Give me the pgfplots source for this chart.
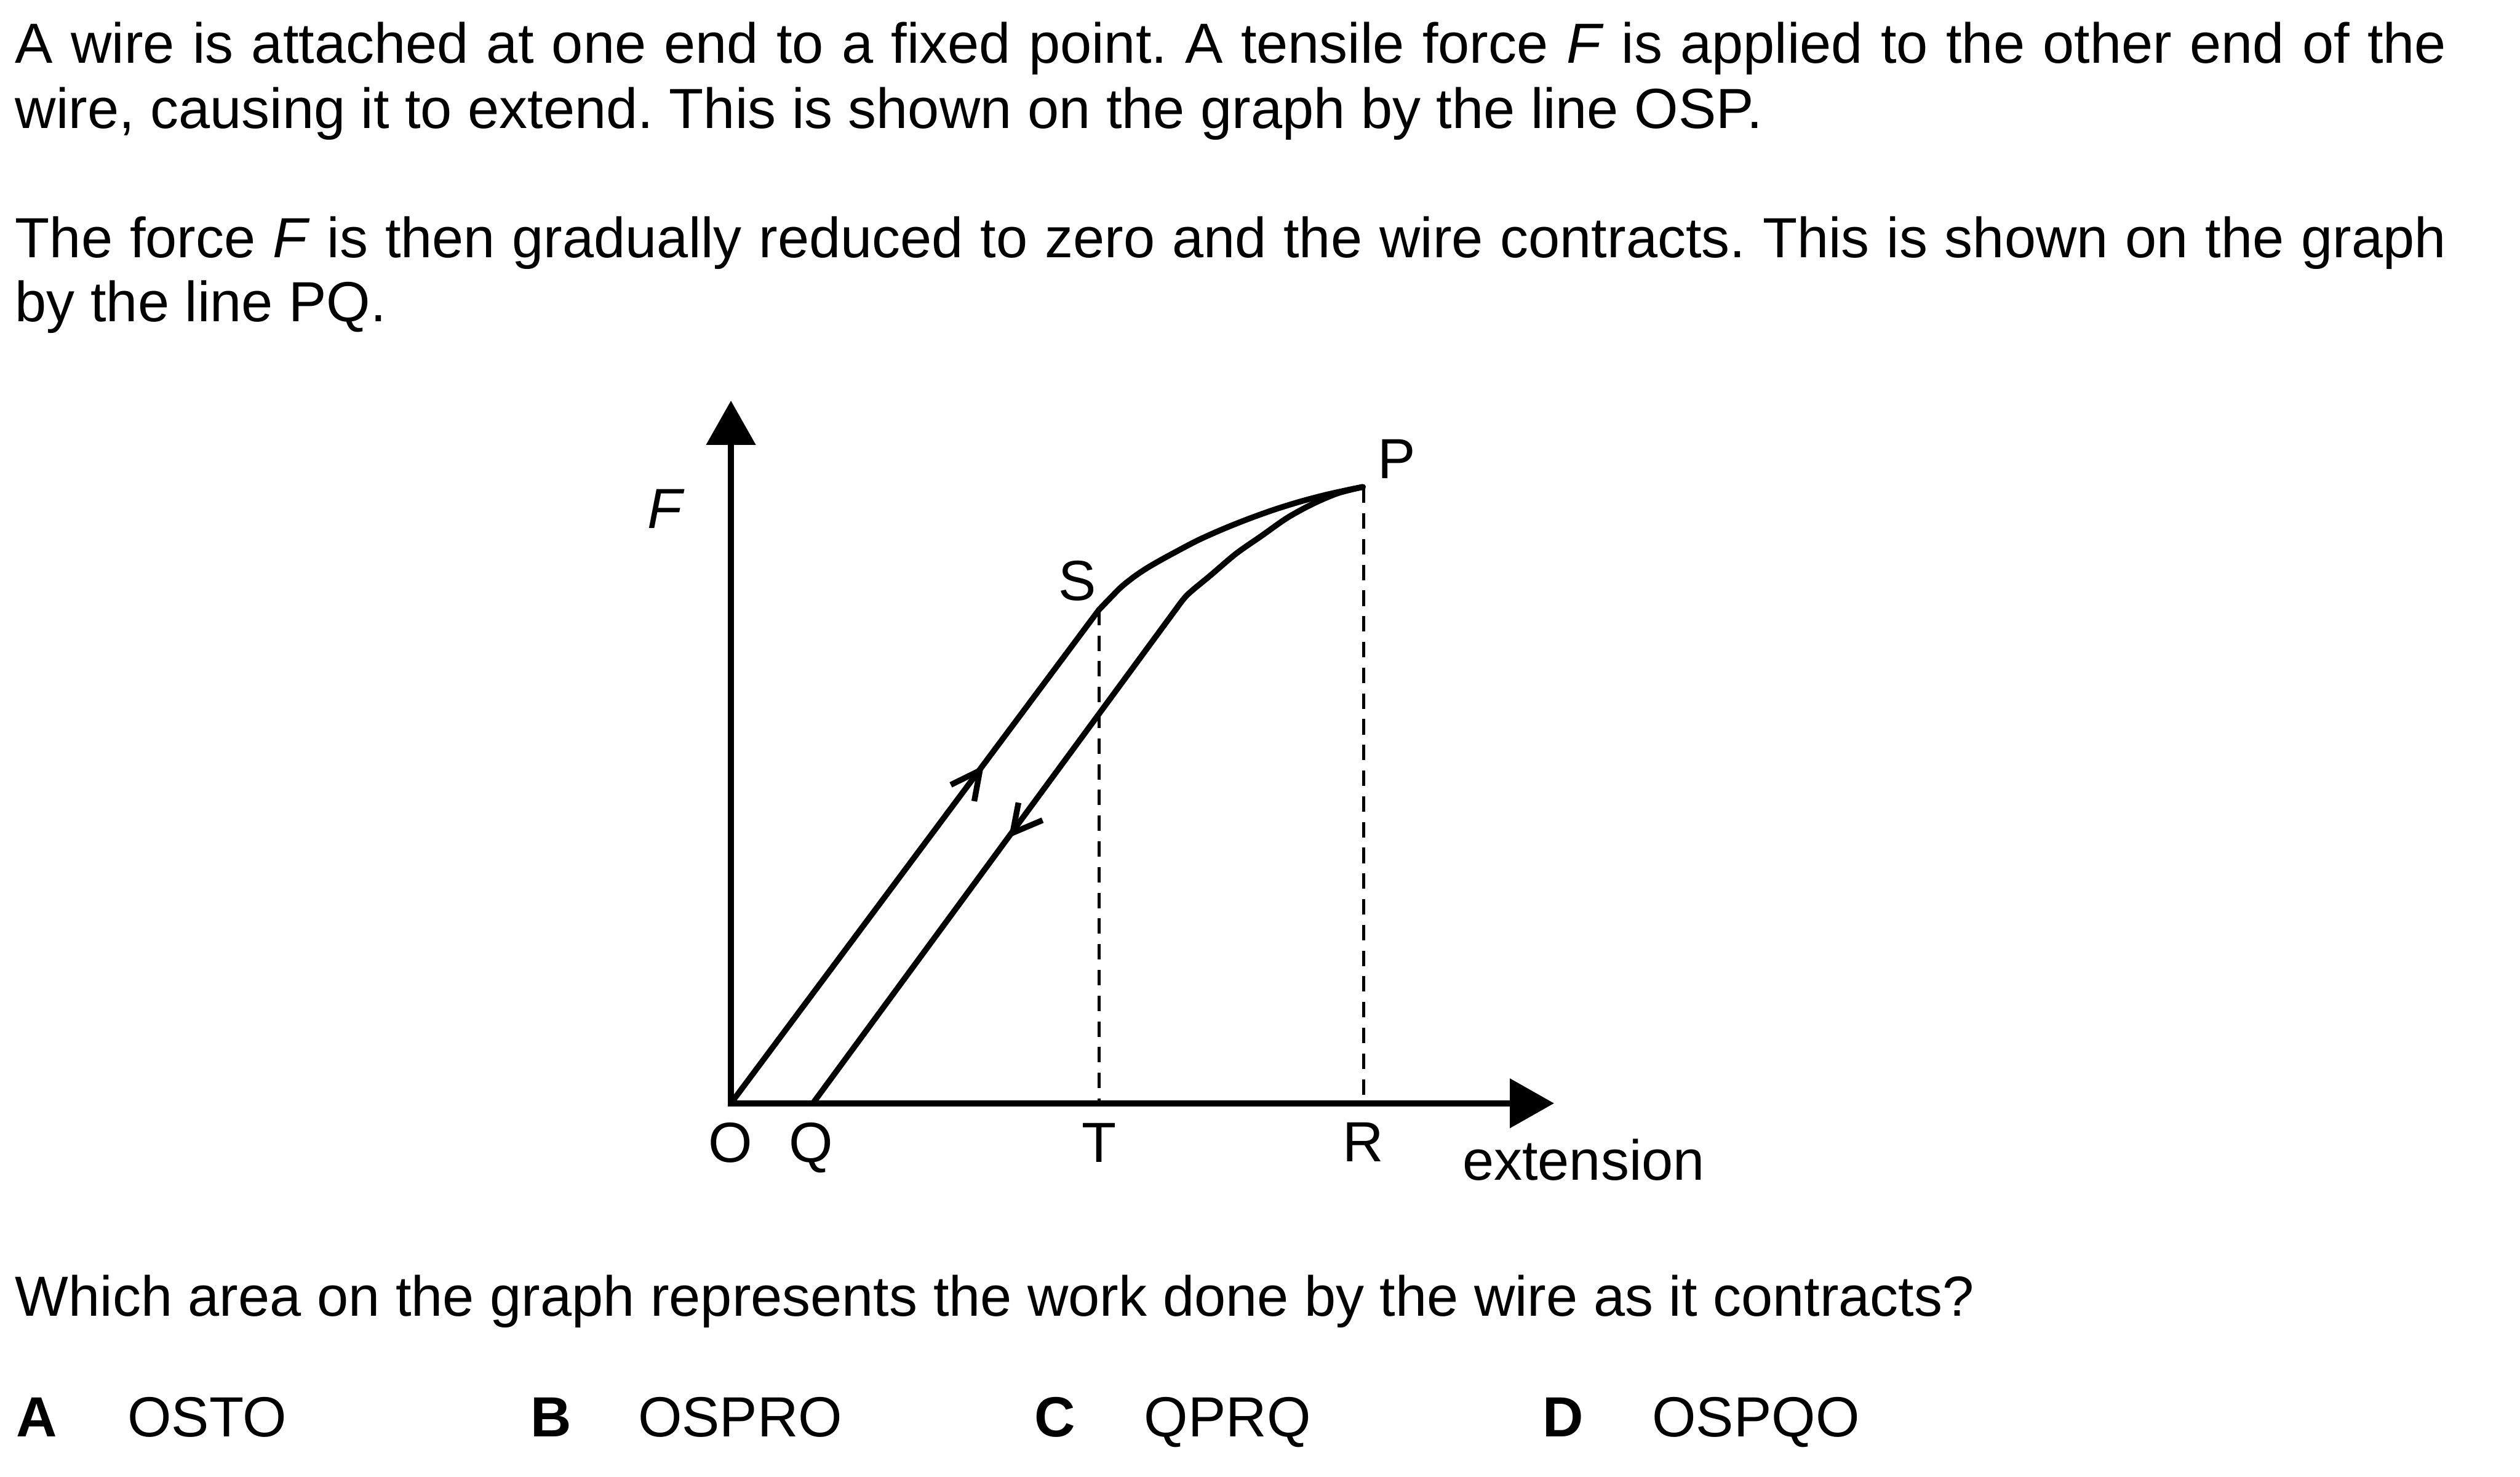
\documentclass[border=0pt]{standalone}
\usepackage{fontspec}
\setmainfont{Liberation Sans}
\usepackage{pgfplots}
\pgfplotsset{compat=1.18}
\usetikzlibrary{arrows.meta}
\frenchspacing

% loading curve S -> P (data units: reference pixels from O)
\pgfplotstableread{
x y
229.0 307.0
236.6 314.9
243.0 321.3
250.9 327.6
258.8 332.9
266.7 337.5
274.7 341.9
290.5 350.2
306.4 357.3
322.2 363.6
338.1 369.3
353.9 374.2
369.8 378.4
385.6 381.9
393.2 383.4
}\loadcurve
% unloading curve P -> kink
\pgfplotstableread{
x y
393.2 383.4
377.7 379.5
361.9 372.8
346.0 364.1
330.2 353.0
314.3 341.9
298.4 328.4
284.2 316.5
277.8 308.6
}\unloadcurve

\begin{document}
\begin{tikzpicture}[every node/.style={inner sep=0pt, outer sep=0pt, font=\fontsize{17.6pt}{20.3pt}\selectfont\frenchspacing}]
\path (0pt,0pt) rectangle (784pt,-459.3pt);

% question text (full lines justified as in the reference)
\node[anchor=base west] at (4.75pt,-19.6pt) {\makebox[756.3pt][s]{A wire is attached at one end to a fixed point. A tensile force \textit{F} is applied to the other end of the}};
\node[anchor=base west] at (4.75pt,-39.9pt) {wire, causing it to extend. This is shown on the graph by the line OSP.};
\node[anchor=base west] at (4.75pt,-80.15pt) {\makebox[756.3pt][s]{The force \textit{F} is then gradually reduced to zero and the wire contracts. This is shown on the graph}};
\node[anchor=base west] at (4.75pt,-100.1pt) {by the line PQ.};
\node[anchor=base west] at (4.75pt,-409.4pt) {Which area on the graph represents the work done by the wire as it contracts?};

\node[anchor=base west] at (5pt,-446.85pt) {\textbf{A}};
\node[anchor=base west] at (39.65pt,-446.85pt) {OSTO};
\node[anchor=base west] at (165pt,-446.85pt) {\textbf{B}};
\node[anchor=base west] at (198.5pt,-446.85pt) {OSPRO};
\node[anchor=base west] at (321.8pt,-446.85pt) {\textbf{C}};
\node[anchor=base west] at (356pt,-446.85pt) {QPRQ};
\node[anchor=base west] at (480pt,-446.85pt) {\textbf{D}};
\node[anchor=base west] at (514pt,-446.85pt) {OSPQO};

\begin{axis}[
  x=0.5pt, y=0.5pt,
  xmin=0, xmax=512.2, ymin=0, ymax=437.1,
  hide axis, clip=false,
  anchor=south west, at={(227.4pt,-343.15pt)},
]
% dashed verticals
\addplot[line width=0.9pt, dash pattern=on 4.8pt off 3.2pt] coordinates {(229.2,307) (229.2,0)};
\addplot[line width=0.9pt, dash pattern=on 4.8pt off 3.2pt] coordinates {(393.6,383) (393.6,0)};
% axes
\addplot[line width=1.9pt, line join=miter,
  arrows={Triangle[length=13.75pt,width=15pt]-Triangle[length=13.75pt,width=15pt]}]
  coordinates {(0,437.1) (0,0) (512.2,0)};
% loading O -> S -> P
\addplot[line width=1.8pt, line cap=round] coordinates {(0,0) (229.0,307.0)};
\addplot[line width=1.8pt, line cap=round, smooth] table {\loadcurve};
% unloading P -> Q
\addplot[line width=1.8pt, line cap=round, smooth] table {\unloadcurve};
\addplot[line width=1.8pt, line cap=round] coordinates {(277.8,308.6) (51,0)};
% direction chevrons
\addplot[line width=1.8pt, line join=miter] coordinates {(136.8,198.1) (154.9,207.0) (151.4,187.9)};
\addplot[line width=1.8pt, line join=miter] coordinates {(178.9,187.0) (175.3,168.2) (193.9,176.1)};
\end{axis}

% graph labels
\node[anchor=base west] at (201.5pt,-164.3pt) {\textit{F}};
\node[anchor=base] at (335.25pt,-186.8pt) {S};
\node[anchor=base] at (434.6pt,-148.75pt) {P};
\node[anchor=base] at (227.2pt,-361.4pt) {O};
\node[anchor=base] at (252.25pt,-361.4pt) {Q};
\node[anchor=base] at (341.95pt,-361.4pt) {T};
\node[anchor=base] at (424pt,-361.2pt) {R};
\node[anchor=base west] at (455pt,-367pt) {extension};
\end{tikzpicture}
\end{document}
